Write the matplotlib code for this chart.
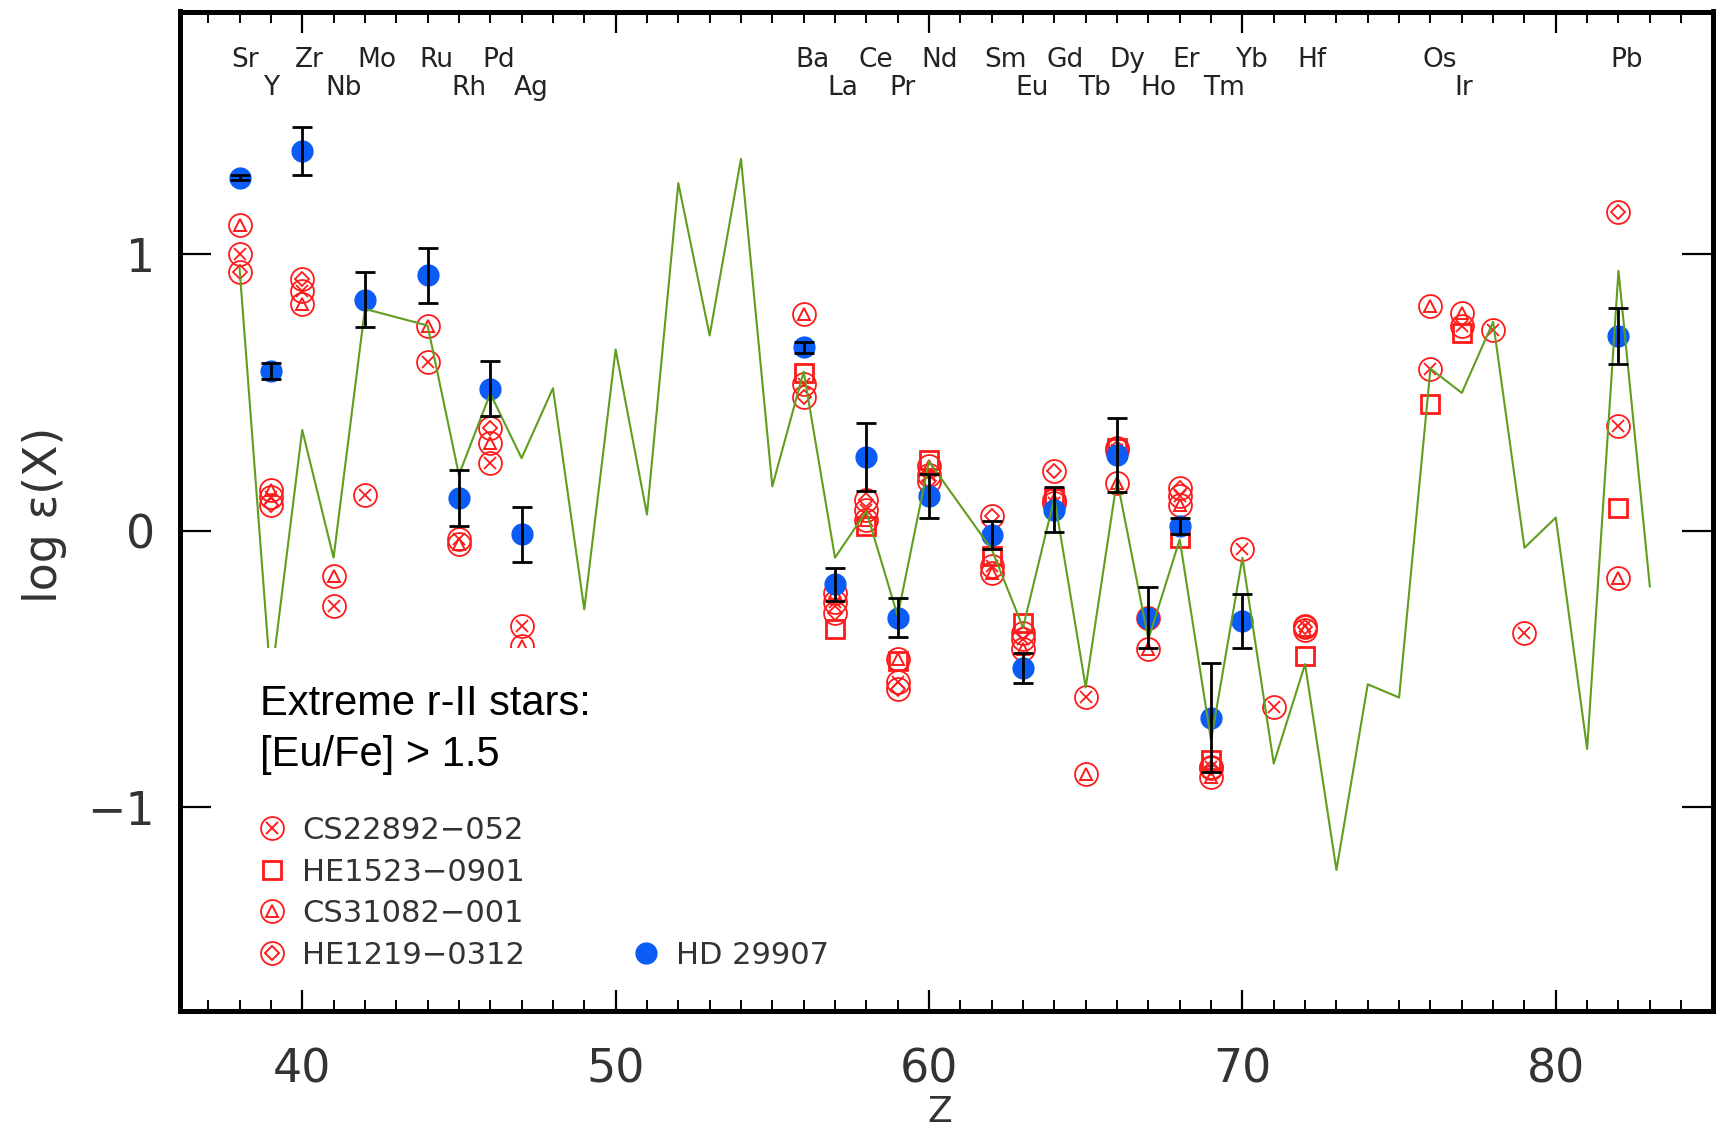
import matplotlib
matplotlib.use('Agg')
import matplotlib.pyplot as plt
from matplotlib.lines import Line2D
from matplotlib.legend_handler import HandlerTuple
from matplotlib.ticker import MultipleLocator, FixedLocator
import matplotlib.transforms as mtransforms

# ---------------- data ----------------
elem_names = ['Sr', 'Y', 'Zr', 'Nb', 'Mo', 'Ru', 'Rh', 'Pd', 'Ag',
              'Ba', 'La', 'Ce', 'Pr', 'Nd', 'Sm', 'Eu', 'Gd', 'Tb', 'Dy',
              'Ho', 'Er', 'Tm', 'Yb', 'Hf', 'Os', 'Ir', 'Pb']
elem_z = [38, 39, 40, 41, 42, 44, 45, 46, 47,
          56, 57, 58, 59, 60, 62, 63, 64, 65, 66,
          67, 68, 69, 70, 72, 76, 77, 82]
elem_row = [0, 1, 0, 1, 0, 0, 1, 0, 1,
            0, 1, 0, 1, 0, 0, 1, 0, 1, 0,
            1, 0, 1, 0, 0, 0, 1, 0]

# scaled solar r-process pattern (green line)
solar_z = [38, 39, 40, 41, 42, 44, 45, 46, 47, 48, 49, 50, 51, 52, 53, 54, 55,
           56, 57, 58, 59, 60, 62, 63, 64, 65, 66, 67, 68, 69, 70, 71, 72, 73,
           74, 75, 76, 77, 78, 79, 80, 81, 82, 83]
solar_v = [0.95, -0.55, 0.364, -0.098, 0.802, 0.742, 0.202, 0.496, 0.262, 0.515,
           -0.285, 0.655, 0.058, 1.257, 0.706, 1.345, 0.16,
           0.575, -0.098, 0.07, -0.309, 0.25, -0.068, -0.351, 0.118, -0.567,
           0.184, -0.393, -0.032, -0.759, -0.098, -0.843, -0.483, -1.228,
           -0.556, -0.604, 0.586, 0.498, 0.755, -0.062, 0.047, -0.79, 0.94, -0.202]

# CS22892-052 (circle with cross)
cs22_z = [38, 39, 40, 41, 42, 44, 45, 46, 47, 56, 57, 58, 59, 60, 62, 63, 64, 65,
          66, 67, 68, 69, 70, 71, 72, 76, 77, 78, 79, 82]
cs22_v = [1.00, 0.12, 0.868, -0.273, 0.13, 0.61, -0.032, 0.244, -0.345, 0.532,
          -0.26, 0.076, -0.549, 0.20, -0.129, -0.393, 0.10, -0.603, 0.29, -0.315,
          0.124, -0.855, -0.068, -0.639, -0.345, 0.586, 0.739, 0.726, -0.371, 0.377]

# HE1523-0901 (square)
he15_z = [56, 57, 58, 59, 60, 62, 63, 64, 66, 68, 69, 72, 76, 77, 82]
he15_v = [0.57, -0.357, 0.016, -0.47, 0.256, -0.093, -0.333, 0.118, 0.298,
          -0.026, -0.831, -0.453, 0.458, 0.715, 0.08]

# CS31082-001 (circle with triangle)
cs31_z = [38, 39, 40, 41, 44, 45, 46, 47, 56, 57, 58, 59, 60, 62, 63, 64, 65,
          66, 67, 68, 69, 72, 76, 77, 82]
cs31_v = [1.105, 0.148, 0.82, -0.165, 0.742, -0.05, 0.316, -0.417, 0.784, -0.225,
          0.04, -0.465, 0.235, -0.152, -0.429, 0.11, -0.879, 0.172, -0.429, 0.094,
          -0.891, -0.36, 0.811, 0.787, -0.17]

# HE1219-0312 (circle with diamond)
he12_z = [38, 39, 40, 46, 56, 57, 58, 59, 60, 62, 63, 64, 66, 68, 69, 72, 82]
he12_v = [0.935, 0.094, 0.91, 0.37, 0.484, -0.297, 0.112, -0.573, 0.18, 0.052,
          -0.37, 0.214, 0.30, 0.154, -0.86, -0.35, 1.154]

# HD 29907 (blue, with errors)
hd_z = [38, 39, 40, 42, 44, 45, 46, 47, 56, 57, 58, 59, 60, 62, 63, 64, 66, 67,
        68, 69, 70, 82]
hd_v = [1.277, 0.577, 1.373, 0.835, 0.923, 0.118, 0.514, -0.014, 0.664, -0.195,
        0.266, -0.315, 0.124, -0.016, -0.497, 0.076, 0.274, -0.315, 0.016, -0.677,
        -0.327, 0.704]
hd_err = [0.01, 0.03, 0.087, 0.099, 0.098, 0.1, 0.1, 0.098, 0.02, 0.06,
          0.123, 0.07, 0.08, 0.05, 0.053, 0.08, 0.135, 0.11, 0.03, 0.197,
          0.098, 0.1]

star_labels = ['CS22892\u2212052', 'HE1523\u22120901', 'CS31082\u2212001',
               'HE1219\u22120312', 'HD 29907']
note_text = 'Extreme r-II stars:\n[Eu/Fe] > 1.5'

# ---------------- figure ----------------
W, H = 1723, 1136
fig = plt.figure(figsize=(W / 100, H / 100), dpi=100)
ax = fig.add_axes([180 / W, 1 - 1011 / H, 1532.5 / W, 999.5 / H])
ax.set_xlim(36.1, 85.0)
ax.set_ylim(-1.738, 1.878)

RED = '#ff1a1a'
BLUE = '#0a5cf5'
GREEN = '#5f9e1e'
GREY = '#333333'

circ_kw = dict(ls='none', marker='o', ms=16.5, mfc='none', mec=RED, mew=1.3, zorder=3)
ax.plot(cs22_z, cs22_v, **circ_kw)
ax.plot(cs22_z, cs22_v, ls='none', marker='x', ms=9, mec=RED, mew=1.3, zorder=3)
ax.plot(cs31_z, cs31_v, **circ_kw)
ax.plot(cs31_z, cs31_v, ls='none', marker='^', ms=8, mfc='none', mec=RED, mew=1.4, zorder=3)
ax.plot(he12_z, he12_v, **circ_kw)
ax.plot(he12_z, he12_v, ls='none', marker='D', ms=7, mfc='none', mec=RED, mew=1.3, zorder=3)
ax.plot(he15_z, he15_v, ls='none', marker='s', ms=13, mfc='none', mec=RED, mew=2.0, zorder=3)

ax.plot(hd_z, hd_v, ls='none', marker='o', ms=15, mfc=BLUE, mec=BLUE, zorder=4)
ax.plot(solar_z, solar_v, color=GREEN, lw=1.5, zorder=5)
ax.errorbar(hd_z, hd_v, yerr=hd_err, fmt='none', ecolor='black', elinewidth=2.0,
            capsize=7.5, capthick=2.0, zorder=6)

# element labels along the top
trans = mtransforms.blended_transform_factory(ax.transData, ax.transAxes)
row_y = [0.9448, 0.9165]
for name, z, r in zip(elem_names, elem_z, elem_row):
    ax.text(z - 0.25, row_y[r], name, transform=trans, ha='left', va='baseline',
            fontsize=19, color='#222222', family='DejaVu Sans')

# note with white background (hides the lines behind it, as in the original)
ax.text(0.0522, 0.3275, note_text, transform=ax.transAxes, ha='left', va='top',
        fontsize=30, family='Liberation Sans', color='black', linespacing=1.35,
        zorder=8,
        bbox=dict(boxstyle='square,pad=0.85', facecolor='white', edgecolor='none'))

# legend
def red_handle(inner, ims):
    c = Line2D([], [], ls='none', marker='o', ms=16.5, mfc='none', mec=RED, mew=1.3)
    i = Line2D([], [], ls='none', marker=inner, ms=ims, mfc='none', mec=RED, mew=1.4)
    return (c, i)

h_cs22 = red_handle('x', 9)
h_he15 = Line2D([], [], ls='none', marker='s', ms=13, mfc='none', mec=RED, mew=2.0)
h_cs31 = red_handle('^', 8)
h_he12 = red_handle('D', 7)
h_hd = Line2D([], [], ls='none', marker='o', ms=15, mfc=BLUE, mec=BLUE)
blank = Line2D([], [], ls='none', marker=None)
handles = [h_cs22, h_he15, h_cs31, h_he12, blank, blank, blank, h_hd]
labels = [star_labels[0], star_labels[1], star_labels[2], star_labels[3],
          '', '', '', star_labels[4]]
leg = ax.legend(handles, labels, ncol=2, loc='upper left',
                bbox_to_anchor=(0.0519, 0.195), frameon=False,
                handlelength=0.8, handletextpad=0.6, columnspacing=3.55,
                labelspacing=0.41, borderaxespad=0, borderpad=0,
                handler_map={tuple: HandlerTuple(ndivide=1)},
                prop=dict(family='DejaVu Sans', size=22))
for t in leg.get_texts():
    t.set_color(GREY)
leg.set_zorder(9)

# axes styling
for s in ax.spines.values():
    s.set_linewidth(3.6)
ax.xaxis.set_major_locator(MultipleLocator(10))
ax.xaxis.set_minor_locator(MultipleLocator(1))
ax.yaxis.set_major_locator(FixedLocator([-1, 0, 1]))
ax.tick_params(axis='x', which='major', direction='in', length=15, width=1.6,
               top=True, bottom=True, pad=26, labelsize=33, labelcolor=GREY)
ax.tick_params(axis='x', which='minor', direction='in', length=8, width=1.4,
               top=True, bottom=True)
ax.tick_params(axis='y', which='major', direction='in', length=22, width=1.6,
               left=True, right=True, pad=18, labelsize=33, labelcolor=GREY)
ax.set_xlabel('Z', fontsize=26, color=GREY)
ax.xaxis.set_label_coords(0.4957, -0.084)
ax.set_ylabel('log \u03b5(X)', fontsize=33, color=GREY)
ax.yaxis.set_label_coords(-0.074, 0.496)

fig.savefig('out.png', dpi=100)
